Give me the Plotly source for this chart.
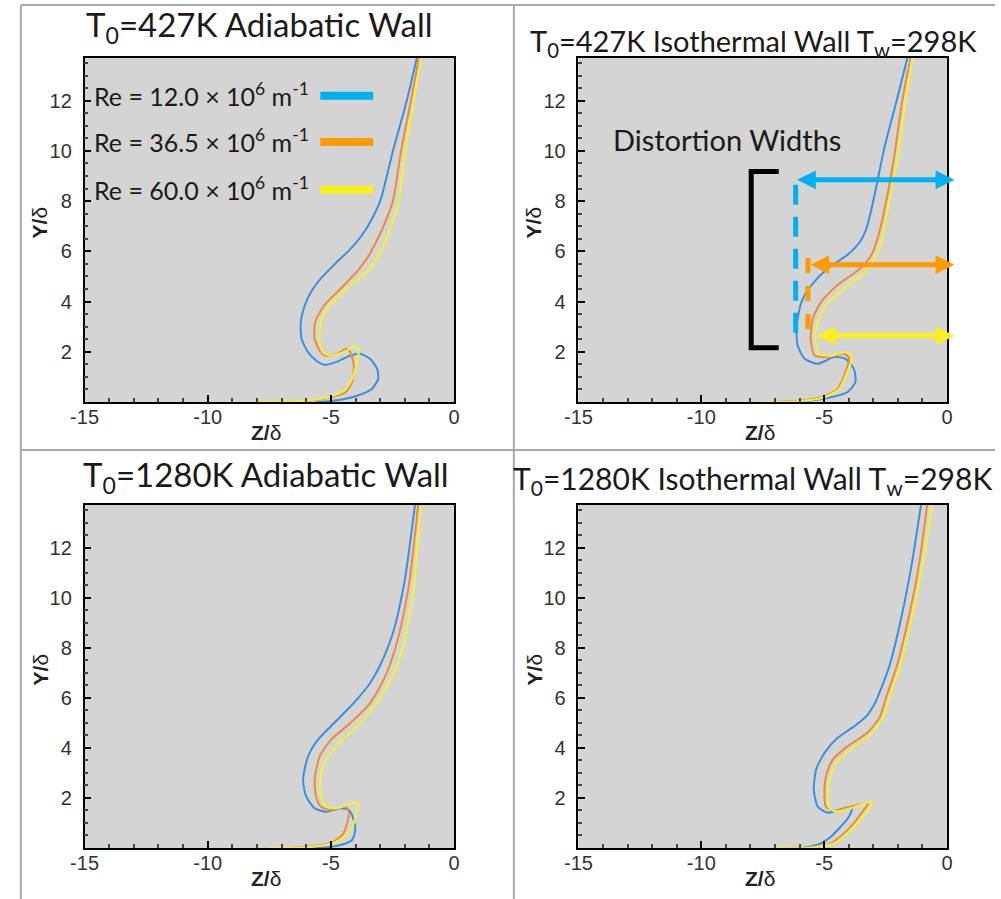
import plotly.graph_objects as go

W, H = 1001, 899

# ---- profile data (Z/delta, Y/delta), listed from the wall upward ----
# T0 = 427 K, adiabatic wall
a427_blue_z = [-5.6, -5.0, -4.6, -3.94, -3.34, -3.08, -3.12, -3.41, -3.81, -4.21, -4.74, -5.27, -5.60, -5.93, -6.19, -6.22, -6.06, -5.80, -5.40, -4.74, -4.25, -3.85, -3.50, -3.0, -2.48, -1.92, -1.50]
a427_blue_y = [0.0, 0.04, 0.09, 0.25, 0.52, 0.92, 1.32, 1.72, 1.92, 1.85, 1.61, 1.48, 1.65, 1.99, 2.52, 3.19, 3.85, 4.39, 4.92, 5.59, 6.05, 6.5, 7.0, 8.0, 10.0, 12.0, 13.75]
a427_orange_z = [-7.5, -6.5, -5.93, -5.0, -4.40, -4.14, -4.07, -4.21, -4.37, -4.74, -5.20, -5.46, -5.66, -5.64, -5.27, -4.60, -3.94, -3.45, -3.10, -2.82, -2.48, -2.15, -1.75, -1.42]
a427_orange_y = [0.0, 0.02, 0.05, 0.19, 0.39, 0.79, 1.45, 1.99, 2.12, 1.92, 1.85, 2.05, 2.52, 3.19, 3.85, 4.52, 5.19, 5.85, 6.5, 7.1, 8.0, 10.0, 12.0, 13.75]
a427_yellow_z = [-8.0, -7.0, -6.06, -5.13, -4.47, -4.14, -3.94, -3.87, -4.01, -4.47, -5.0, -5.33, -5.46, -5.40, -5.07, -4.34, -3.54, -3.05, -2.75, -2.52, -2.24, -1.98, -1.63, -1.33]
a427_yellow_y = [0.0, 0.02, 0.05, 0.19, 0.45, 0.92, 1.59, 2.12, 2.25, 1.99, 1.85, 1.99, 2.52, 3.19, 3.85, 4.52, 5.19, 5.85, 6.5, 7.1, 8.0, 10.0, 12.0, 13.75]

# T0 = 427 K, isothermal wall
i427_blue_z = [-6.6, -5.39, -4.72, -4.06, -3.73, -3.79, -4.13, -4.59, -5.26, -5.79, -6.08, -6.12, -5.92, -5.52, -4.86, -4.06, -3.53, -3.30, -3.13, -2.86, -2.55, -2.05, -1.60]
i427_blue_y = [0.0, 0.08, 0.19, 0.39, 0.79, 1.32, 1.72, 1.79, 1.52, 1.72, 2.25, 3.05, 3.99, 4.65, 5.32, 5.85, 6.39, 6.85, 7.45, 8.65, 10.12, 12.0, 13.75]
i427_orange_z = [-7.2, -6.06, -5.12, -4.46, -4.13, -3.99, -4.19, -4.86, -5.39, -5.55, -5.46, -5.12, -4.46, -3.53, -3.05, -2.80, -2.59, -2.20, -1.80, -1.47]
i427_orange_y = [0.0, 0.05, 0.19, 0.52, 1.19, 1.75, 1.92, 1.79, 1.85, 2.52, 3.32, 3.99, 4.65, 5.32, 5.9, 6.6, 7.45, 9.45, 12.12, 13.75]
i427_yellow_z = [-7.6, -6.06, -4.99, -4.39, -4.06, -3.86, -4.06, -4.73, -5.19, -5.36, -5.26, -4.93, -4.19, -3.33, -2.85, -2.62, -2.46, -2.06, -1.66, -1.40]
i427_yellow_y = [0.0, 0.03, 0.19, 0.52, 1.19, 1.79, 1.99, 1.85, 1.92, 2.52, 3.19, 3.85, 4.52, 5.19, 5.9, 6.6, 7.45, 9.45, 12.12, 13.75]

# T0 = 1280 K, adiabatic wall
a1280_blue_z = [-5.8, -5.13, -4.60, -4.14, -4.01, -4.07, -4.27, -4.60, -5.20, -5.66, -6.0, -6.13, -5.93, -5.53, -4.87, -4.07, -3.40, -3.0, -2.48, -2.02, -1.58]
a1280_blue_y = [0.0, 0.03, 0.12, 0.32, 0.72, 1.12, 1.52, 1.59, 1.45, 1.59, 2.05, 2.72, 3.65, 4.32, 4.99, 5.79, 6.6, 7.3, 8.59, 10.59, 13.75]
a1280_orange_z = [-6.8, -5.93, -5.0, -4.54, -4.34, -4.27, -4.40, -5.0, -5.40, -5.60, -5.66, -5.46, -5.0, -4.21, -3.41, -2.92, -2.61, -2.22, -1.82, -1.45]
a1280_orange_y = [0.0, 0.05, 0.21, 0.52, 0.99, 1.45, 1.65, 1.52, 1.65, 2.05, 2.72, 3.65, 4.32, 4.99, 5.79, 6.6, 7.3, 8.59, 10.59, 13.75]
a1280_yellow_z = [-7.5, -5.93, -4.87, -4.34, -4.07, -3.94, -3.87, -4.07, -4.74, -5.20, -5.40, -5.43, -5.27, -4.74, -3.81, -3.05, -2.64, -2.30, -1.95, -1.62, -1.35]
a1280_yellow_y = [0.0, 0.03, 0.21, 0.52, 0.99, 1.45, 1.76, 1.81, 1.59, 1.65, 2.05, 2.72, 3.39, 4.12, 4.99, 5.92, 6.6, 7.3, 8.59, 10.59, 13.75]

# T0 = 1280 K, isothermal wall
i1280_blue_z = [-6.8, -5.92, -5.19, -4.73, -4.33, -3.99, -3.86, -4.33, -4.86, -5.26, -5.42, -5.33, -4.99, -4.46, -3.79, -3.25, -2.90, -2.65, -2.35, -1.85, -1.45, -1.05]
i1280_blue_y = [0.0, 0.0, 0.16, 0.45, 0.85, 1.25, 1.63, 1.55, 1.41, 1.65, 2.32, 3.12, 3.79, 4.39, 4.85, 5.3, 5.85, 6.45, 7.25, 9.25, 11.25, 13.75]
i1280_orange_z = [-6.8, -5.6, -4.73, -4.26, -3.79, -3.39, -3.19, -3.93, -4.59, -4.93, -4.99, -4.93, -4.66, -4.06, -3.26, -2.75, -2.45, -2.05, -1.55, -1.15, -0.80]
i1280_orange_y = [0.0, 0.0, 0.19, 0.52, 0.99, 1.52, 1.79, 1.65, 1.49, 1.65, 2.19, 2.85, 3.52, 4.05, 4.59, 5.2, 6.1, 7.25, 9.25, 11.25, 13.75]
i1280_yellow_z = [-6.9, -5.7, -4.59, -4.13, -3.66, -3.19, -3.06, -3.79, -4.46, -4.79, -4.86, -4.79, -4.53, -3.93, -3.13, -2.62, -2.32, -1.92, -1.42, -1.0, -0.60]
i1280_yellow_y = [0.0, 0.0, 0.19, 0.52, 0.99, 1.52, 1.85, 1.63, 1.45, 1.59, 2.05, 2.72, 3.39, 3.92, 4.52, 5.2, 6.1, 7.25, 9.25, 11.25, 13.75]

panel_titles = [
    "T<sub>0</sub>=427K Adiabatic Wall",
    "T<sub>0</sub>=427K Isothermal Wall T<sub>w</sub>=298K",
    "T<sub>0</sub>=1280K Adiabatic Wall",
    "T<sub>0</sub>=1280K Isothermal Wall T<sub>w</sub>=298K",
]
legend_labels = [
    "Re = 12.0 × 10<sup>6</sup> m<sup>-1</sup>",
    "Re = 36.5 × 10<sup>6</sup> m<sup>-1</sup>",
    "Re = 60.0 × 10<sup>6</sup> m<sup>-1</sup>",
]
x_ticks = [-15, -10, -5, 0]
x_tick_text = ["-15", "-10", "-5", "0"]
y_ticks = [2, 4, 6, 8, 10, 12]

# distortion-width markers (panel 2): left end z, height y
width_left_z = [-6.16, -5.62, -5.36]
width_y = [8.85, 5.47, 2.64]

curve_colors = ["#3a8fe2", "#ee8a3a", "#f3ef3e"]
mark_colors = ["#00b0f0", "#ff9a00", "#f8ef1c"]

panels = [
    (a427_blue_z, a427_blue_y, a427_orange_z, a427_orange_y, a427_yellow_z, a427_yellow_y),
    (i427_blue_z, i427_blue_y, i427_orange_z, i427_orange_y, i427_yellow_z, i427_yellow_y),
    (a1280_blue_z, a1280_blue_y, a1280_orange_z, a1280_orange_y, a1280_yellow_z, a1280_yellow_y),
    (i1280_blue_z, i1280_blue_y, i1280_orange_z, i1280_orange_y, i1280_yellow_z, i1280_yellow_y),
]

# plot-area boxes in pixels: (left, right, top, bottom)
boxes = [(72, 449, 58, 402), (576, 952, 58, 402), (72, 449, 505, 848), (576, 952, 505, 848)]

SANS = "Liberation Sans"
TITLE_FONT = "Lato"


def px_x(p):
    return p / W


def px_y(p):
    return 1 - p / H


fig = go.Figure()
layout = dict(
    width=W, height=H, margin=dict(l=0, r=0, t=0, b=0),
    paper_bgcolor="white", plot_bgcolor="#d4d4d4", showlegend=False,
    font=dict(family=SANS, color="#333333"),
)

tick_font = dict(family=SANS, size=20, color="#333333")
for i, (l, r, t, b) in enumerate(boxes):
    n = "" if i == 0 else str(i + 1)
    layout["xaxis" + n] = dict(
        domain=[px_x(l), px_x(r)], range=[-15, 0], anchor="y" + n,
        tickmode="array", tickvals=x_ticks, ticktext=x_tick_text,
        ticks="inside", ticklen=7, tickwidth=1.5, tickcolor="black",
        minor=dict(dtick=1, tick0=0, ticks="inside", ticklen=4, tickcolor="#444"),
        showline=True, mirror=True, linecolor="black", linewidth=1.5,
        showgrid=False, zeroline=False, tickfont=tick_font, ticklabelstandoff=-4,
    )
    layout["yaxis" + n] = dict(
        domain=[px_y(b), px_y(t)], range=[0, 13.7], anchor="x" + n,
        tickmode="array", tickvals=y_ticks,
        ticks="inside", ticklen=7, tickwidth=1.5, tickcolor="black",
        minor=dict(dtick=0.5, tick0=0, ticks="inside", ticklen=4, tickcolor="#444"),
        showline=True, mirror=True, linecolor="black", linewidth=1.5,
        showgrid=False, zeroline=False, tickfont=tick_font, ticklabelstandoff=7,
    )

fig.update_layout(**layout)

for i, series in enumerate(panels):
    n = "" if i == 0 else str(i + 1)
    for k in range(3):
        fig.add_trace(go.Scatter(
            x=series[2 * k], y=series[2 * k + 1], mode="lines",
            line=dict(color=curve_colors[k], width=2.2 if k == 2 else 2, shape="spline", smoothing=0.65),
            xaxis="x" + n, yaxis="y" + n, hoverinfo="skip",
        ))

annotations = []
shapes = []

# table-style dividers
grid_col = "#a8a8a8"
shapes += [
    dict(type="line", xref="paper", yref="paper", x0=px_x(7), x1=1, y0=px_y(5), y1=px_y(5), line=dict(color=grid_col, width=2)),
    dict(type="line", xref="paper", yref="paper", x0=px_x(7), x1=px_x(7), y0=px_y(5), y1=0, line=dict(color=grid_col, width=2)),
    dict(type="line", xref="paper", yref="paper", x0=px_x(510), x1=px_x(510), y0=px_y(5), y1=0, line=dict(color=grid_col, width=2)),
    dict(type="line", xref="paper", yref="paper", x0=px_x(7), x1=1, y0=px_y(450), y1=px_y(450), line=dict(color=grid_col, width=2)),
]

# panel titles: centre x, centre y, size
title_pos = [(250, 27, 33), (755, 42, 29), (257, 477, 33), (754, 480, 30)]
for txt, (cx, cy, sz) in zip(panel_titles, title_pos):
    annotations.append(dict(
        text=txt, xref="paper", yref="paper", x=px_x(cx), y=px_y(cy),
        xanchor="center", yanchor="middle", showarrow=False,
        font=dict(family=TITLE_FONT, size=sz, color="#1a1a1a"),
    ))

# axis titles
for (l, r, t, b) in boxes:
    annotations.append(dict(
        text="<b>Z/</b>δ", xref="paper", yref="paper", x=px_x((l + r) / 2 - 3), y=px_y(b + 30),
        xanchor="center", yanchor="middle", showarrow=False,
        font=dict(family=SANS, size=21, color="#222"),
    ))
    annotations.append(dict(
        text="<b>Y/</b>δ", xref="paper", yref="paper", x=px_x(l - 45), y=px_y(t + 164),
        xanchor="center", yanchor="middle", showarrow=False, textangle=-90,
        font=dict(family=SANS, size=21, color="#222"),
    ))

# legend (panel 1)
legend_y = [12.2, 10.35, 8.45]
for lab, ly, col in zip(legend_labels, legend_y, mark_colors):
    annotations.append(dict(
        text=lab, xref="x", yref="y", x=-14.7, y=ly + 0.05, xanchor="left", yanchor="middle",
        showarrow=False, font=dict(family=TITLE_FONT, size=25, color="#1a1a1a"),
    ))
    shapes.append(dict(type="line", xref="x", yref="y", x0=-5.43, x1=-3.28, y0=ly, y1=ly,
                       line=dict(color=col, width=8)))

# distortion-width markup (panel 2)
annotations.append(dict(
    text="Distortion Widths", xref="paper", yref="paper", x=px_x(728), y=px_y(139),
    xanchor="center", yanchor="middle", showarrow=False,
    font=dict(family=TITLE_FONT, size=29, color="#1a1a1a"),
))
shapes.append(dict(type="path", xref="x2", yref="y2",
                   path="M -6.85 9.18 L -7.97 9.18 L -7.97 2.16 L -6.85 2.16",
                   line=dict(color="black", width=5)))
# dashed verticals from the blue and orange width ends
shapes.append(dict(type="line", xref="x2", yref="y2", x0=width_left_z[0], x1=width_left_z[0],
                   y0=width_y[0] - 0.2, y1=2.56, line=dict(color=mark_colors[0], width=5, dash="20px,12px")))
shapes.append(dict(type="line", xref="x2", yref="y2", x0=width_left_z[1] - 0.04, x1=width_left_z[1] - 0.04,
                   y0=width_y[1] + 0.26, y1=2.68, line=dict(color=mark_colors[1], width=5, dash="15px,13px")))
for z0, yy, col in zip(width_left_z, width_y, mark_colors):
    annotations.append(dict(
        text="", xref="x2", yref="y2", axref="x2", ayref="y2",
        x=0.3, y=yy, ax=z0, ay=yy, showarrow=True,
        arrowhead=2, startarrowhead=2, arrowside="end+start",
        arrowsize=0.75, startarrowsize=0.75, arrowwidth=5, arrowcolor=col, standoff=0, startstandoff=0,
    ))

fig.update_layout(annotations=annotations, shapes=shapes)
fig.write_html("out.html")
